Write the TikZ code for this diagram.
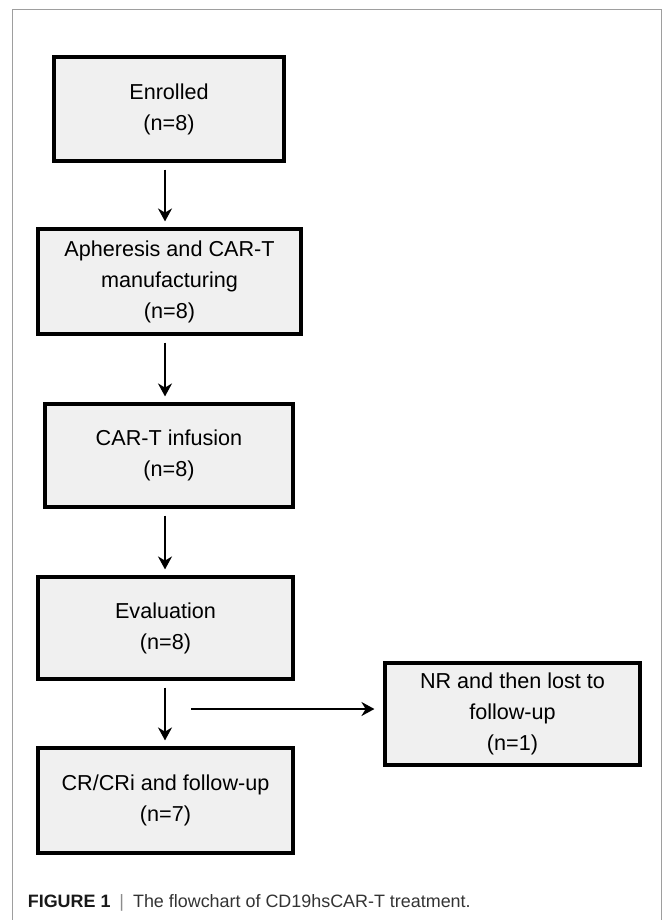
\documentclass[tikz,border=0pt]{standalone}
\usepackage{fontspec}
\setmainfont{Liberation Sans}
\usetikzlibrary{arrows.meta}
\usetikzlibrary{positioning}
\tikzstyle{stage}=[draw=black,fill=black!6,line width=1.8pt,align=center,inner sep=2pt,font=\fontsize{12.3}{17.6}\selectfont]
\tikzstyle{edge} = [draw,line width=1.5pt,-{Stealth[length=0.26cm,width=0.28cm]}]
\tikzstyle{frame} = [draw=black!38,line width=1pt]
\tikzstyle{caption} = [anchor=west,inner sep=0pt,font=\fontsize{10.2}{12}\selectfont,text=black!80]

\begin{document}
\begin{tikzpicture}[x=0.02cm,y=-0.02cm]
    % page and grey frame
    \useasboundingbox (0,0) rectangle (663,920);
    \path[frame] (12.5,940) -- (12.5,9.5) -- (661.5,9.5) -- (661.5,940);

    % the stages
    \foreach \pos/\name/\w/\h/\label in {{(169,109)/enr/4.6/2.08/{Enrolled\\(n=8)}},
        {(169.5,281.5)/aph/5.26/2.1/{Apheresis and CAR-T\\manufacturing\\(n=8)}},
        {(169,455.5)/inf/4.96/2.06/{CAR-T infusion\\(n=8)}},
        {(165.5,628)/eva/5.1/2.04/{Evaluation\\(n=8)}},
        {(165.5,800.5)/crf/5.1/2.1/{CR/CRi and follow-up\\(n=7)}},
        {(512.5,714)/nrl/5.1/2.04/{NR and then lost to\\follow-up\\(n=1)}}}
        \node[stage,minimum width=\w cm,minimum height=\h cm] (\name) at \pos {\label};

    % arrows down the column
    \coordinate (spine) at (165,0);
    \foreach \source/\dest in {enr/aph, aph/inf, inf/eva, eva/crf}
        \path[edge,shorten <=0.14cm,shorten >=0.12cm] (\source.south -| spine) -- (\dest.north -| spine);

    % side branch
    \coordinate (split) at (191,709);
    \path[edge,shorten >=0.18cm] (split) -- (split -| nrl.west);

    \node[caption] (cap) at (27.5,903) {\textbf{\color{black!90}FIGURE 1}\enspace{\color{black!45}|}\enspace The flowchart of CD19hsCAR-T treatment.};
\end{tikzpicture}
\end{document}
